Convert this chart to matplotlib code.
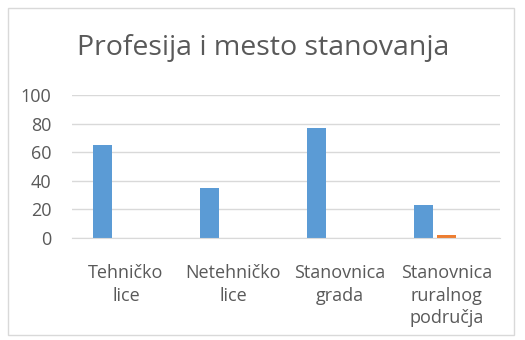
import numpy as np
import matplotlib.pyplot as plt
from matplotlib.patches import Rectangle

plt.rcParams['font.family'] = ['Open Sans', 'DejaVu Sans']

# Podaci
kategorije = ['Tehničko\nlice', 'Netehničko\nlice', 'Stanovnica\ngrada',
              'Stanovnica\nruralnog\npodručja']
serija1 = [65, 35, 77, 23]
serija2 = [0, 0, 0, 2]
serija3 = [0, 0, 0, 0]
y_ticks = [0, 20, 40, 60, 80, 100]

fig = plt.figure(figsize=(5.25, 3.4), dpi=100)

# Okvir grafikona
fig.patches.append(Rectangle((8 / 525, 5 / 340), 506 / 525, 327 / 340,
                             transform=fig.transFigure, fill=False,
                             edgecolor='#D9D9D9', linewidth=1))

ax = fig.add_axes([0.138, 0.30, 0.815, 0.4206])

x = np.arange(len(kategorije))
w = 0.178
ax.bar(x - 0.215, serija1, w, color='#5B9BD5')
ax.bar(x, serija2, w, color='#ED7D31')
ax.bar(x + 0.215, serija3, w, color='#A5A5A5')

ax.set_xlim(-0.5, len(kategorije) - 0.5)
ax.set_ylim(0, 100)
ax.set_yticks(y_ticks)
ax.set_xticks(x)
ax.set_xticklabels(kategorije, linespacing=1.3)
ax.yaxis.grid(True, color='#D9D9D9', linewidth=1)
ax.set_axisbelow(True)
for s in ['top', 'right', 'left']:
    ax.spines[s].set_visible(False)
ax.spines['bottom'].set_color('#D9D9D9')
ax.tick_params(axis='both', length=0, colors='#595959', labelsize=13)
ax.tick_params(axis='y', pad=15)
ax.tick_params(axis='x', pad=19)

fig.text(0.502, 0.859, 'Profesija i mesto stanovanja', ha='center', va='center',
         fontsize=20.5, color='#595959')

fig.savefig('out.png', dpi=100, facecolor='white')
